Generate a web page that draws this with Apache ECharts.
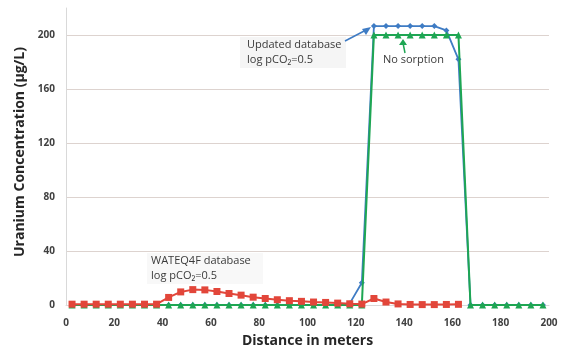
<!DOCTYPE html>
<html>
<head>
<meta charset="utf-8">
<script src="https://cdn.jsdelivr.net/npm/echarts@6/dist/echarts.min.js"></script>
<style>
  html, body { margin: 0; padding: 0; background: #fff; }
  #chart { width: 568px; height: 353px; }
</style>
</head>
<body>
<div id="chart"></div>
<script>
// distance (m) at each sample point
const distance = [
  2.5, 7.5, 12.5, 17.5, 22.5, 27.5, 32.5, 37.5, 42.5, 47.5,
  52.5, 57.5, 62.5, 67.5, 72.5, 77.5, 82.5, 87.5, 92.5, 97.5,
  102.5, 107.5, 112.5, 117.5, 122.5, 127.5, 132.5, 137.5, 142.5, 147.5,
  152.5, 157.5, 162.5, 167.5, 172.5, 177.5, 182.5, 187.5, 192.5, 197.5
];
// WATEQ4F database (stops at 162.5 m)
const wateq = [
  0.6, 0.6, 0.6, 0.6, 0.6, 0.6, 0.6, 0.6, 5.6, 9.7,
  11.4, 11.2, 10, 8.5, 7.3, 5.8, 4.8, 3.9, 3.2, 2.7,
  2.2, 1.9, 1.4, 0.9, 0.7, 4.8, 2.2, 0.8, 0.4, 0.3,
  0.3, 0.4, 0.5
];
// Updated database
const updated = [
  0, 0, 0, 0, 0, 0, 0, 0, 0, 0,
  0, 0, 0, 0, 0, 0, 0, 0, 0, 0,
  0, 0, 0, 1.2, 16.5, 206.6, 206.6, 206.6, 206.6, 206.6,
  206.6, 203.4, 182, 0, 0, 0, 0, 0, 0, 0
];
// No sorption
const noSorption = [
  0, 0, 0, 0, 0, 0, 0, 0, 0, 0,
  0, 0, 0, 0, 0, 0, 0, 0, 0, 0,
  0, 0, 0, 0, 0, 200, 200, 200, 200, 200,
  200, 200, 200, 0, 0, 0, 0, 0, 0, 0
];

const pairs = (ys) => ys.map((y, i) => [distance[i], y]);

const chart = echarts.init(document.getElementById('chart'));
const labelFont = 'Open Sans';
const noteFont = '11px "Open Sans"';

chart.setOption({
  animation: false,
  grid: { left: 66, right: 19, top: 8, bottom: 48 },
  xAxis: {
    type: 'value',
    min: 0, max: 200, interval: 20,
    name: 'Distance in meters',
    nameLocation: 'middle',
    nameGap: 29,
    nameTextStyle: { fontFamily: labelFont, fontWeight: 'bold', fontSize: 14, color: '#262626' },
    axisLine: { show: true, lineStyle: { color: '#d9d9d9', width: 1 } },
    axisTick: { show: false },
    axisLabel: { fontFamily: labelFont, fontWeight: 'bold', fontSize: 10, color: '#404040', margin: 13 },
    splitLine: { show: false }
  },
  yAxis: {
    type: 'value',
    min: 0, max: 220, interval: 40,
    name: 'Uranium Concentration (µg/L)',
    nameLocation: 'middle',
    nameGap: 38,
    nameTextStyle: { fontFamily: labelFont, fontWeight: 'bold', fontSize: 14, color: '#262626', padding: [0, 0, 0, 9] },
    axisLine: { show: true, lineStyle: { color: '#d9d9d9', width: 1 } },
    axisTick: { show: false },
    axisLabel: { fontFamily: labelFont, fontWeight: 'bold', fontSize: 10, color: '#404040', margin: 11, showMaxLabel: false },
    splitLine: { show: true, showMaxLine: false, lineStyle: { color: '#ddd3cf', width: 1 } }
  },
  series: [
    {
      name: 'Updated database',
      type: 'line',
      data: pairs(updated),
      symbol: 'diamond',
      symbolSize: 6,
      itemStyle: { color: '#3f7cc4' },
      lineStyle: { color: '#3f7cc4', width: 1.8 },
      z: 2
    },
    {
      name: 'No sorption',
      type: 'line',
      data: pairs(noSorption),
      symbol: 'triangle',
      symbolSize: 7,
      itemStyle: { color: '#1ea653' },
      lineStyle: { color: '#1ea653', width: 2 },
      z: 3
    },
    {
      name: 'WATEQ4F database',
      type: 'line',
      data: pairs(wateq),
      symbol: 'rect',
      symbolSize: 7,
      itemStyle: { color: '#e2463a' },
      lineStyle: { color: '#e2463a', width: 2 },
      z: 4
    }
  ],
  graphic: [
    { type: 'rect', shape: { x: 240, y: 37, width: 106, height: 31 }, style: { fill: '#f5f5f5' }, z: 1 },
    { type: 'text', x: 247, y: 37, style: { text: 'Updated database\nlog pCO₂=0.5', font: noteFont, fill: '#3a3a3a', lineHeight: 15 }, z: 10 },
    { type: 'line', shape: { x1: 345, y1: 41, x2: 368, y2: 29 }, style: { stroke: '#3f7cc4', lineWidth: 1.5 }, z: 10 },
    { type: 'polygon', shape: { points: [[371, 27], [362, 29], [366, 35]] }, style: { fill: '#3f7cc4' }, z: 10 },
    { type: 'text', x: 383, y: 54, style: { text: 'No sorption', font: noteFont, fill: '#3a3a3a' }, z: 10 },
    { type: 'line', shape: { x1: 405, y1: 53, x2: 403, y2: 43 }, style: { stroke: '#1ea653', lineWidth: 1.5 }, z: 10 },
    { type: 'polygon', shape: { points: [[403, 39], [399, 45], [407, 45]] }, style: { fill: '#1ea653' }, z: 10 },
    { type: 'rect', shape: { x: 147, y: 253, width: 116, height: 31 }, style: { fill: '#f8f8f8' }, z: 1 },
    { type: 'text', x: 151, y: 253, style: { text: 'WATEQ4F database\nlog pCO₂=0.5', font: noteFont, fill: '#3a3a3a', lineHeight: 15 }, z: 10 }
  ]
});
</script>
</body>
</html>
